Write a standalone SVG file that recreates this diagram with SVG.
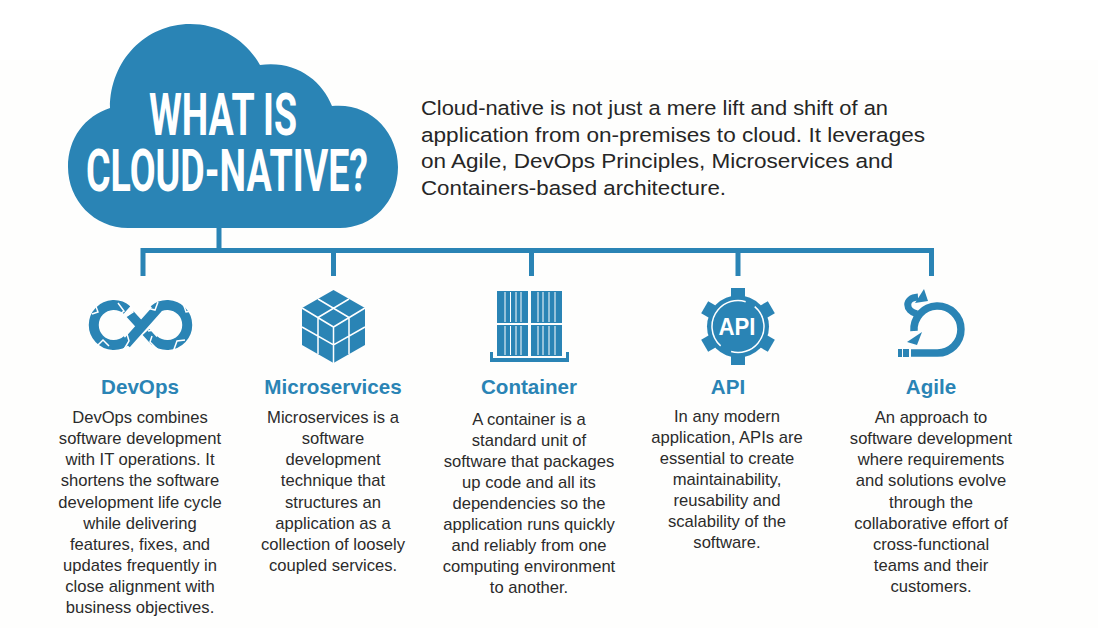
<svg xmlns="http://www.w3.org/2000/svg" width="1098" height="628" viewBox="0 0 1098 628">
<style>
.b{fill:#2a84b5}
.w{fill:#fff}
.wl{fill:none;stroke:#fff}
.c{fill:none;stroke:#2a84b5;stroke-width:5}
.s{fill:none;stroke:#2a84b5}
text{font-family:"Liberation Sans",Arial,sans-serif}
.t{font-family:"Roboto","Liberation Sans",sans-serif;font-weight:700;font-size:60px;fill:#fff;text-anchor:middle}
.i{font-size:20.5px;fill:#262626}
.h{font-size:20.6px;font-weight:700;fill:#2a84b5;text-anchor:middle}
.d{font-size:16.6px;fill:#2b2b2b;text-anchor:middle}
</style>
<rect width="1098" height="628" fill="#fff"/>
<rect y="60" width="1098" height="568" fill="#fefefd"/>
<g id="connectors">
<path class="c" d="M219 226V250.500M143 276V250.500H931.500V276M333.500 250.500V276M531.500 250.500V276M738 250.500V276"/>
</g>
<g id="cloud">
<path class="b" d="M128 228C94 228 68 200 68 167C68 138 85 116 110 108C110 60 146 24 190 24C220 24 246 40 260 65C295 60 322 80 332 106C370 102 398 132 398 167C398 202 372 228 340 228Z"/>
<text class="t" x="223" y="135" textLength="148" lengthAdjust="spacingAndGlyphs">WHAT IS</text>
<text class="t" x="227" y="191" textLength="282" lengthAdjust="spacingAndGlyphs">CLOUD-NATIVE?</text>
</g>
<g id="intro">
<text class="i" x="421" y="115" textLength="467" lengthAdjust="spacingAndGlyphs">Cloud-native is not just a mere lift and shift of an</text>
<text class="i" x="421" y="142" textLength="504" lengthAdjust="spacingAndGlyphs">application from on-premises to cloud. It leverages</text>
<text class="i" x="421" y="168" textLength="472" lengthAdjust="spacingAndGlyphs">on Agile, DevOps Principles, Microservices and</text>
<text class="i" x="421" y="195" textLength="305" lengthAdjust="spacingAndGlyphs">Containers-based architecture.</text>
</g>
<g id="devops">
<path class="s" stroke-width="10" d="M127 340A20 20 0 1 1 127 310M154 310A20 20 0 1 1 154 340M126 344L158 308"/>
<path class="s" stroke-width="9" d="M130 314L140 325M146 332L155 342"/>
<path class="wl" stroke-width="1.500" d="M92 314L98 312L95 304M118 303L124 311L116 317M96 347L103 340L109 346M127 334L129 341L123 351M158 302L155 310L147 308M183 303L186 312L192 311M173 352L177 341L185 340M152 336L150 342L158 350M127 316L133 312L130 304M154 330L148 331"/>
<text class="h" x="140" y="394">DevOps</text>
<text class="d"><tspan x="140" y="423">DevOps combines</tspan><tspan x="140" y="444">software development</tspan><tspan x="140" y="465">with IT operations. It</tspan><tspan x="140" y="486">shortens the software</tspan><tspan x="140" y="508">development life cycle</tspan><tspan x="140" y="529">while delivering</tspan><tspan x="140" y="550">features, fixes, and</tspan><tspan x="140" y="571">updates frequently in</tspan><tspan x="140" y="592">close alignment with</tspan><tspan x="140" y="613">business objectives.</tspan></text>
</g>
<g id="microservices">
<path class="b" d="M333.500 290L365 308V345L333.500 363L302 345V308Z"/>
<path class="wl" stroke-width="1.500" d="M318 299L349 317.500M349 299L318 317.500M302 308L333.500 327L365 308M333.500 327V363M302 327L333.500 345L365 327M318 317.500V354M349 317.500V354"/>
<text class="h" x="333" y="394">Microservices</text>
<text class="d"><tspan x="333" y="423">Microservices is a</tspan><tspan x="333" y="444">software</tspan><tspan x="333" y="465">development</tspan><tspan x="333" y="486">technique that</tspan><tspan x="333" y="508">structures an</tspan><tspan x="333" y="529">application as a</tspan><tspan x="333" y="550">collection of loosely</tspan><tspan x="333" y="571">coupled services.</tspan></text>
</g>
<g id="container">
<path class="b" d="M497 291H528V323H497ZM531 291H562V323H531ZM497 325H528V356H497ZM531 325H562V356H531Z"/>
<path class="wl" d="M505 292V322M510.500 292V322M516 292V322M521 292V322M538 292V322M543 292V322M549 292V322M555 292V322M505 326V355M510.500 326V355M516 326V355M521 326V355M538 326V355M543 326V355M549 326V355M555 326V355" stroke-width="1"/>
<path class="b" d="M490 352H493V358H566V352H569V362H490Z"/>
<text class="h" x="529" y="394">Container</text>
<text class="d"><tspan x="529" y="425">A container is a</tspan><tspan x="529" y="446">standard unit of</tspan><tspan x="529" y="467">software that packages</tspan><tspan x="529" y="488">up code and all its</tspan><tspan x="529" y="509">dependencies so the</tspan><tspan x="529" y="530">application runs quickly</tspan><tspan x="529" y="551">and reliably from one</tspan><tspan x="529" y="572">computing environment</tspan><tspan x="529" y="593">to another.</tspan></text>
</g>
<g id="api">
<circle class="b" cx="738" cy="326.500" r="31"/>
<g class="b">
<rect x="731" y="288" width="14" height="12"/>
<rect x="731" y="288" width="14" height="12" transform="rotate(60 738 326.500)"/>
<rect x="731" y="288" width="14" height="12" transform="rotate(120 738 326.500)"/>
<rect x="731" y="288" width="14" height="12" transform="rotate(180 738 326.500)"/>
<rect x="731" y="288" width="14" height="12" transform="rotate(240 738 326.500)"/>
<rect x="731" y="288" width="14" height="12" transform="rotate(300 738 326.500)"/>
</g>
<circle class="wl" cx="738" cy="326.500" r="26" stroke-width="1.500" stroke-dasharray="70 12 70 12" transform="rotate(-50 738 326.500)"/>
<text x="737" y="335" font-size="24" font-weight="700" fill="#fff" text-anchor="middle" textLength="37" lengthAdjust="spacingAndGlyphs">API</text>
<text class="h" x="728" y="394">API</text>
<text class="d"><tspan x="727" y="422">In any modern</tspan><tspan x="727" y="443">application, APIs are</tspan><tspan x="727" y="464">essential to create</tspan><tspan x="727" y="485">maintainability,</tspan><tspan x="727" y="506">reusability and</tspan><tspan x="727" y="527">scalability of the</tspan><tspan x="727" y="548">software.</tspan></text>
</g>
<g id="agile">
<path class="s" stroke-width="7.500" d="M911 353H937A23.500 23.500 0 1 0 914 331"/>
<path class="b" d="M907 342L922 332L917 345Z"/>
<path class="b" d="M898 349H902V357H898ZM903 349H909V357H903Z"/>
<path class="s" stroke-width="7" d="M917 314C905 311 904 298 918 297"/>
<path class="b" d="M924 289L928 301L915 303Z"/>
<text class="h" x="931" y="394">Agile</text>
<text class="d"><tspan x="931" y="423">An approach to</tspan><tspan x="931" y="444">software development</tspan><tspan x="931" y="465">where requirements</tspan><tspan x="931" y="486">and solutions evolve</tspan><tspan x="931" y="508">through the</tspan><tspan x="931" y="529">collaborative effort of</tspan><tspan x="931" y="550">cross-functional</tspan><tspan x="931" y="571">teams and their</tspan><tspan x="931" y="592">customers.</tspan></text>
</g>
</svg>
